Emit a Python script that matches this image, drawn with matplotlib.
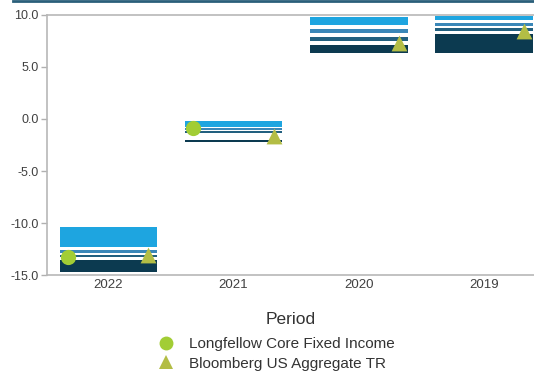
import matplotlib
matplotlib.use("Agg")
import matplotlib.pyplot as plt
import numpy as np
from matplotlib.lines import Line2D

plt.rcParams['font.family'] = ['Liberation Sans', 'DejaVu Sans']

periods = ["2022", "2021", "2020", "2019"]
# each band: (top, bottom) per period
band1_top = [-10.4, -0.2, 9.8, 9.85]
band1_bot = [-12.3, -0.8, 9.0, 9.5]
band2_top = [-12.55, -0.9, 8.62, 9.25]
band2_bot = [-12.9, -1.05, 8.24, 8.95]
band3_top = [-13.1, -1.15, 7.86, 8.7]
band3_bot = [-13.3, -1.35, 7.53, 8.4]
band4_top = [-13.55, -2.0, 7.12, 8.15]
band4_bot = [-14.7, -2.2, 6.32, 6.35]
fund = [-13.25, -0.9, np.nan, np.nan]
bench = [-13.1, -1.65, 7.3, 8.4]
yticks = [10.0, 5.0, 0.0, -5.0, -10.0, -15.0]

band_colors = ['#1ea5e0', '#3a87b8', '#22607f', '#0c3a50']
circle_color = '#a2cd35'
tri_color = '#b3bd45'

fig = plt.figure(figsize=(5.34, 3.8), dpi=100)
ax = fig.add_axes([0.088, 0.276, 0.912, 0.685])

x = np.arange(len(periods))
w = 0.78
tops = [band1_top, band2_top, band3_top, band4_top]
bots = [band1_bot, band2_bot, band3_bot, band4_bot]
for t, b, c in zip(tops, bots, band_colors):
    t = np.array(t); b = np.array(b)
    ax.bar(x, t - b, bottom=b, width=w, color=c, linewidth=0, zorder=2)

ax.scatter(x - 0.32, fund, s=120, marker='o', color=circle_color, zorder=4, linewidths=0)
ax.scatter(x + 0.32, bench, s=130, marker='^', color=tri_color, zorder=4, linewidths=0)

ax.set_xlim(-0.49, 3.4)
ax.set_ylim(-15, 10)
ax.set_yticks(yticks)
ax.set_yticklabels([f"{v:.1f}" for v in yticks], fontsize=9, color='#404040')
ax.set_xticks(x)
ax.set_xticklabels(periods, fontsize=9.5, color='#404040')
ax.tick_params(axis='x', length=0, pad=3)
ax.tick_params(axis='y', length=4, color='#b0b0b0', width=1, pad=2)
for s in ['left', 'bottom', 'top']:
    ax.spines[s].set_color('#b8b8b8')
    ax.spines[s].set_linewidth(1.2)
ax.spines['right'].set_visible(False)
ax.set_xlabel("Period", fontsize=12.5, color='#333333', labelpad=15)

handles = [Line2D([], [], marker='o', linestyle='none', color=circle_color, markersize=10, markeredgewidth=0),
           Line2D([], [], marker='^', linestyle='none', color=tri_color, markersize=10, markeredgewidth=0)]
fig.legend(handles, ["Longfellow Core Fixed Income", "Bloomberg US Aggregate TR"],
           loc='upper left', bbox_to_anchor=(0.283, 0.112), frameon=False,
           fontsize=11, labelcolor='#333333', handletextpad=0.45, labelspacing=0.35,
           borderaxespad=0, borderpad=0)

fig.add_artist(Line2D([0.025, 1.0], [0.997, 0.997], color='#2a5f7a', linewidth=2, transform=fig.transFigure))

fig.savefig("out.png", dpi=100)
